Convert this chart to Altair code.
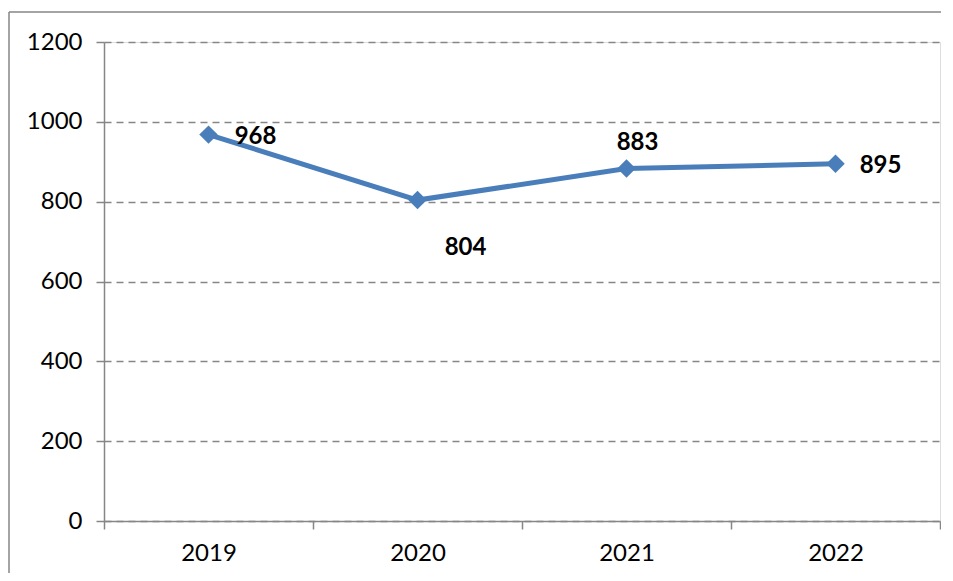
import altair as alt
import pandas as pd

years = ["2019", "2020", "2021", "2022"]
values = [968, 804, 883, 895]
y_ticks = [0, 200, 400, 600, 800, 1000, 1200]

df = pd.DataFrame({"year": years, "value": values})

W, H = 836, 479
FONT = "Lato"
BLUE = "#4A7EBB"
GRAY = "#868686"

x_enc = alt.X(
    "year:O",
    bandPosition=0.5,
    scale=alt.Scale(type="band", paddingInner=0, paddingOuter=0),
    axis=alt.Axis(
        title=None, labelAngle=0, tickBand="extent", tickSize=8,
        labelPadding=12, labelFontSize=24, labelFont=FONT, labelColor="black",
        domainColor=GRAY, tickColor=GRAY, domainWidth=1.5, tickWidth=1.5,
        grid=False,
    ),
)
y_enc = alt.Y(
    "value:Q",
    scale=alt.Scale(domain=[0, 1200], nice=False),
    axis=alt.Axis(
        title=None, values=y_ticks, format="d", tickSize=8, labelPadding=14,
        labelFontSize=24, labelFont=FONT, labelColor="black",
        domainColor=GRAY, tickColor=GRAY, domainWidth=1.5, tickWidth=1.5,
        grid=True, gridColor=GRAY, gridDash=[7, 5], gridWidth=1.5,
    ),
)

base = alt.Chart(df)
one = base.transform_filter(alt.datum.year == "2019")

frame_left = one.mark_rule(stroke=GRAY, strokeWidth=1.5).encode(
    x=alt.value(-95), y=alt.value(-30), y2=alt.value(H + 100)
)
frame_top = one.mark_rule(stroke=GRAY, strokeWidth=1.5).encode(
    x=alt.value(-95), x2=alt.value(W + 100), y=alt.value(-30)
)

line = base.mark_line(color=BLUE, strokeWidth=5).encode(x=x_enc, y=y_enc)
points = base.mark_point(shape="diamond", filled=True, color=BLUE, size=340, opacity=1).encode(
    x=x_enc, y=y_enc
)

offsets = {"2019": (47, 2), "2020": (48, 48), "2021": (11, -26), "2022": (45, 2)}
labels = []
for yr, (dx, dy) in offsets.items():
    labels.append(
        base.transform_filter(alt.datum.year == yr)
        .mark_text(dx=dx, dy=dy, fontSize=24, fontWeight="bold", font=FONT,
                   color="black", align="center", baseline="middle")
        .encode(x=x_enc, y=y_enc, text="value:Q")
    )

chart = alt.layer(frame_left, frame_top, line, points, *labels).properties(
    width=W, height=H,
    autosize=alt.AutoSizeParams(type="none"),
    padding={"left": 96, "top": 34, "right": 1, "bottom": 52},
).configure_view(stroke=None).configure(background="white")

chart.save("out.html", embed_options={"renderer": "svg", "actions": False})
